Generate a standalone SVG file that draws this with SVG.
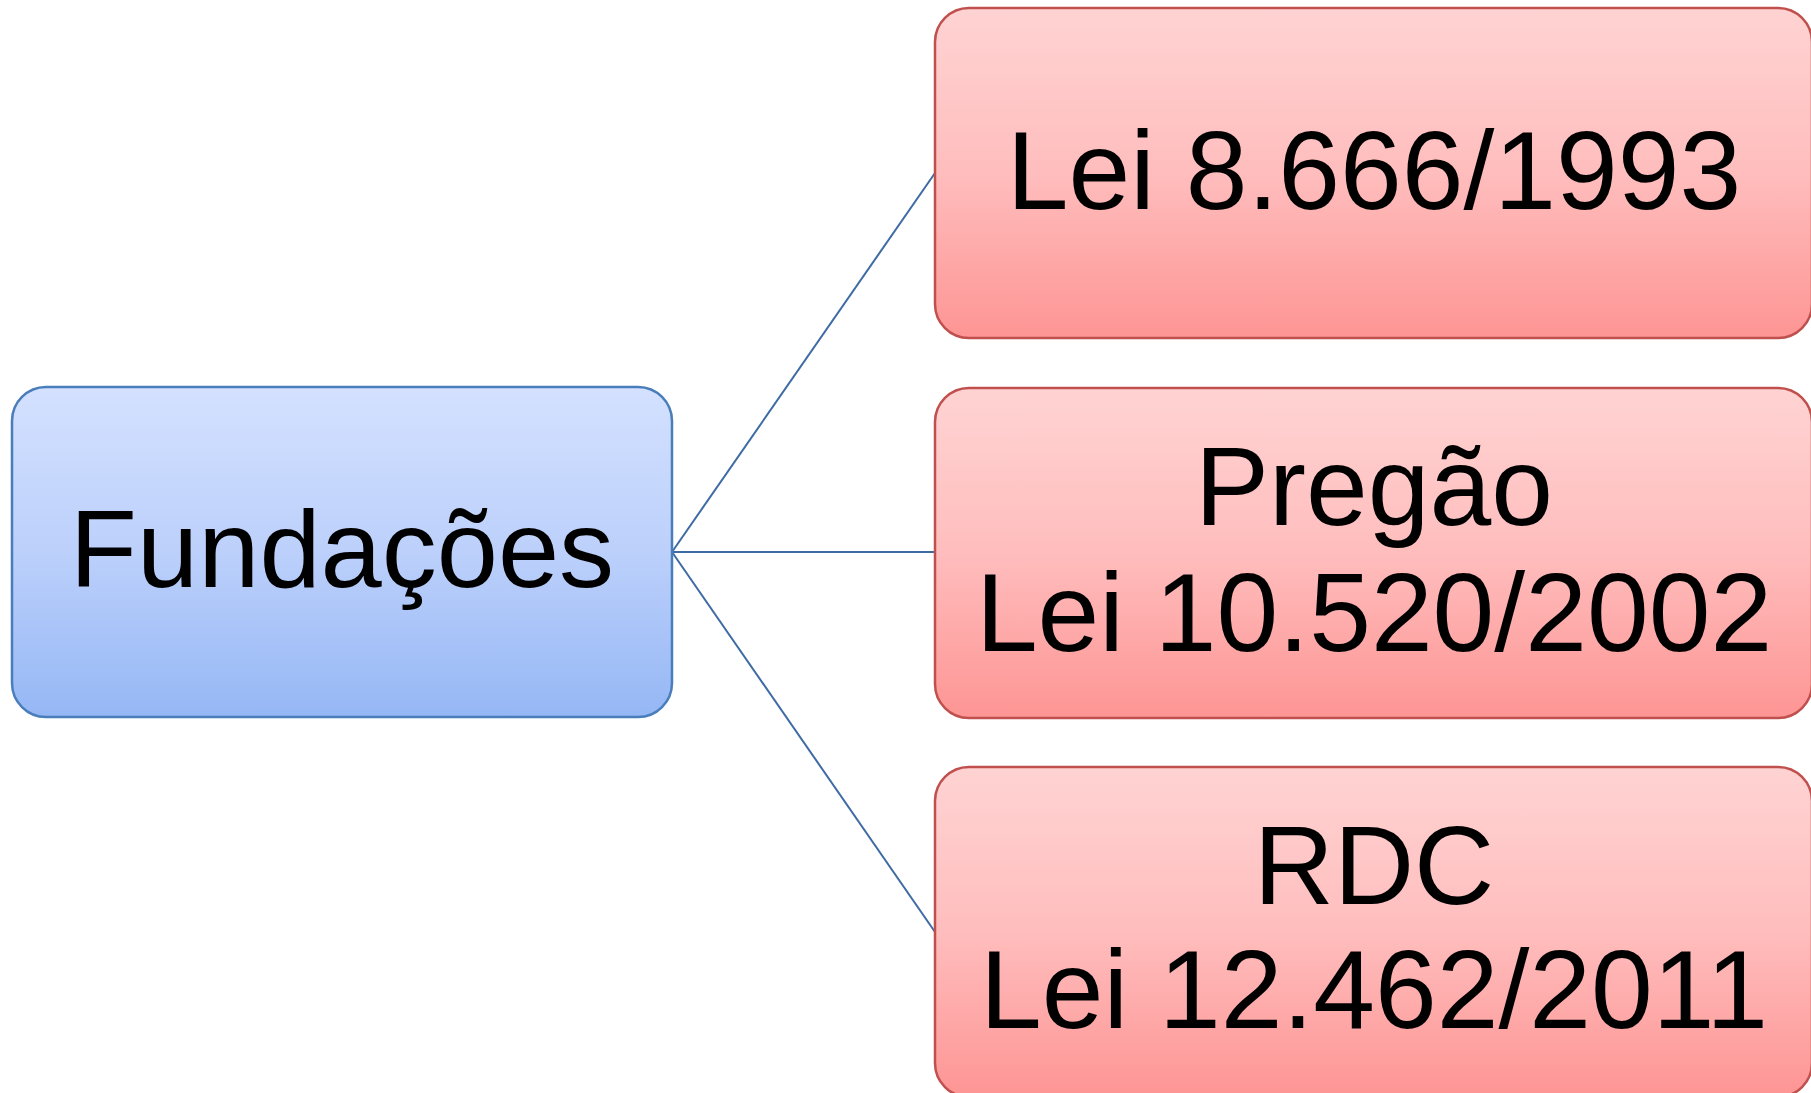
<svg xmlns="http://www.w3.org/2000/svg" width="1811" height="1093" viewBox="0 0 1811 1093">
  <defs>
    <linearGradient id="gBlue" x1="0" y1="0" x2="0" y2="1">
      <stop offset="0" stop-color="#d4e1ff"/>
      <stop offset="0.5" stop-color="#bcd0fb"/>
      <stop offset="1" stop-color="#95b7f5"/>
    </linearGradient>
    <linearGradient id="gRed" x1="0" y1="0" x2="0" y2="1">
      <stop offset="0" stop-color="#ffd3d3"/>
      <stop offset="0.5" stop-color="#ffbdbd"/>
      <stop offset="1" stop-color="#fd9594"/>
    </linearGradient>
  </defs>
  <style>
    .root { fill: url(#gBlue); stroke: #4a7ebb; stroke-width: 2.5; }
    .leaf { fill: url(#gRed); stroke: #c0504d; stroke-width: 2.5; }
    .lbl { font-family: "Liberation Sans", Arial, sans-serif; font-size: 111px; fill: #000; text-anchor: middle; }
    .lbl.big { font-size: 110px; }
    .conn line { stroke: #3f6ba3; stroke-width: 2; }
  </style>

  <g id="connectors" class="conn">
    <line x1="672" y1="552" x2="935" y2="173"/>
    <line x1="672" y1="552" x2="935" y2="552"/>
    <line x1="672" y1="552" x2="935" y2="932"/>
  </g>

  <g id="node-fundacoes">
    <rect class="root" x="12" y="387" width="660" height="330" rx="34" ry="34"/>
    <text class="lbl big" x="342" y="587">Fundações</text>
  </g>

  <g id="node-lei8666">
    <rect class="leaf" x="935" y="8" width="877" height="330" rx="34" ry="34"/>
    <text class="lbl" x="1374" y="209">Lei 8.666/1993</text>
  </g>

  <g id="node-pregao">
    <rect class="leaf" x="935" y="388" width="877" height="330" rx="34" ry="34"/>
    <text class="lbl" x="1374" y="525">Pregão</text>
    <text class="lbl" x="1374" y="651">Lei 10.520/2002</text>
  </g>

  <g id="node-rdc">
    <rect class="leaf" x="935" y="767" width="877" height="330" rx="34" ry="34"/>
    <text class="lbl" x="1374" y="904">RDC</text>
    <text class="lbl" x="1374" y="1028">Lei 12.462/2011</text>
  </g>
</svg>
